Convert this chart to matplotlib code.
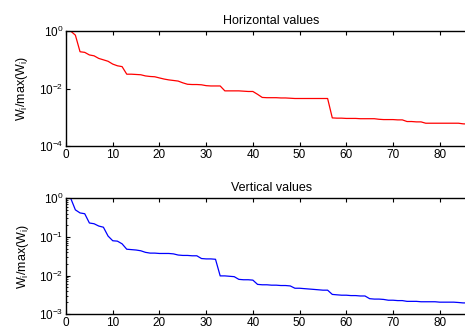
import matplotlib
matplotlib.use("Agg")
import matplotlib.pyplot as plt
import numpy as np
from matplotlib.ticker import LogLocator, NullLocator, MultipleLocator

plt.rcParams['font.family'] = ['Liberation Sans', 'DejaVu Sans']
plt.rcParams['mathtext.fontset'] = 'custom'
plt.rcParams['mathtext.rm'] = 'Liberation Sans'
plt.rcParams['mathtext.it'] = 'Liberation Sans'

# normalised weights, sorted in decreasing order
horizontal_w = [
    1.0, 0.724, 0.191, 0.182, 0.148, 0.138, 0.112, 0.100, 0.089, 0.071,
    0.062, 0.058, 0.0316, 0.0316, 0.0309, 0.0302, 0.0275, 0.0263, 0.0257, 0.0234,
    0.0214, 0.0200, 0.0191, 0.0182, 0.0158, 0.0141, 0.0138, 0.0138, 0.0135, 0.0126,
    0.0123, 0.0123, 0.0123, 0.0083, 0.0083, 0.0083, 0.0083, 0.0081, 0.0079, 0.0079,
    0.0063, 0.0049, 0.0048, 0.0048, 0.0048, 0.0047, 0.0047, 0.0046, 0.0045, 0.0045,
    0.0045, 0.0045, 0.0045, 0.0045, 0.0045, 0.0045, 0.00095, 0.00093, 0.00093, 0.00091,
    0.00091, 0.00091, 0.00089, 0.00089, 0.00089, 0.00089, 0.00085, 0.00083, 0.00083, 0.00083,
    0.00081, 0.00081, 0.00071, 0.00071, 0.00069, 0.00069, 0.00062, 0.00062, 0.00062, 0.00062,
    0.00062, 0.00062, 0.00062, 0.00062, 0.00059, 0.00058, 0.00058, 0.00056,
]
vertical_w = [
    1.0, 0.501, 0.417, 0.398, 0.229, 0.219, 0.191, 0.178, 0.105, 0.0794,
    0.0776, 0.0661, 0.0479, 0.0468, 0.0457, 0.0437, 0.0398, 0.0380, 0.0380, 0.0372,
    0.0372, 0.0372, 0.0363, 0.0339, 0.0331, 0.0331, 0.0324, 0.0324, 0.0275, 0.0269,
    0.0269, 0.0263, 0.00977, 0.00977, 0.00955, 0.00933, 0.00794, 0.00776, 0.00776, 0.00759,
    0.00589, 0.00575, 0.00575, 0.00562, 0.00562, 0.00550, 0.00550, 0.00537, 0.00468, 0.00468,
    0.00457, 0.00447, 0.00437, 0.00427, 0.00417, 0.00417, 0.00324, 0.00316, 0.00309, 0.00309,
    0.00302, 0.00302, 0.00295, 0.00295, 0.00251, 0.00245, 0.00245, 0.00240, 0.00229, 0.00229,
    0.00224, 0.00224, 0.00214, 0.00214, 0.00214, 0.00209, 0.00209, 0.00209, 0.00209, 0.00204,
    0.00204, 0.00204, 0.00204, 0.00200, 0.00195, 0.00195, 0.00191, 0.00191,
]

fig = plt.figure(figsize=(4.65, 3.31), dpi=100)
ax_h = fig.add_axes([0.142, 0.559, 0.884, 0.347])
ax_v = fig.add_axes([0.142, 0.051, 0.884, 0.350])

panels = [
    (ax_h, horizontal_w, 'red', 'Horizontal values', (1e-4, 1), [1, 1e-2, 1e-4], False),
    (ax_v, vertical_w, 'blue', 'Vertical values', (1e-3, 1), [1, 1e-1, 1e-2, 1e-3], True),
]

for ax, w, color, title, ylim, yticks, minor in panels:
    idx = np.arange(1, len(w) + 1)
    ax.semilogy(idx, w, color=color, linewidth=0.9)
    ax.set_xlim(0, 88)
    ax.set_ylim(*ylim)
    ax.set_yticks(yticks)
    if minor:
        ax.yaxis.set_minor_locator(LogLocator(base=10, subs=np.arange(2, 10)))
    else:
        ax.yaxis.set_minor_locator(NullLocator())
    ax.xaxis.set_major_locator(MultipleLocator(10))
    ax.tick_params(which='both', direction='in', top=True, right=True,
                   labelsize=8.5, pad=2)
    ax.tick_params(which='major', length=3, width=0.8)
    ax.tick_params(which='minor', length=1.5, width=0.6)
    for s in ax.spines.values():
        s.set_linewidth(1.0)
    ax.set_title(title, fontsize=9, pad=5)
    ax.set_ylabel(r'W$_i$/max(W$_i$)', fontsize=9, labelpad=6)

fig.savefig('out.png', dpi=100)
